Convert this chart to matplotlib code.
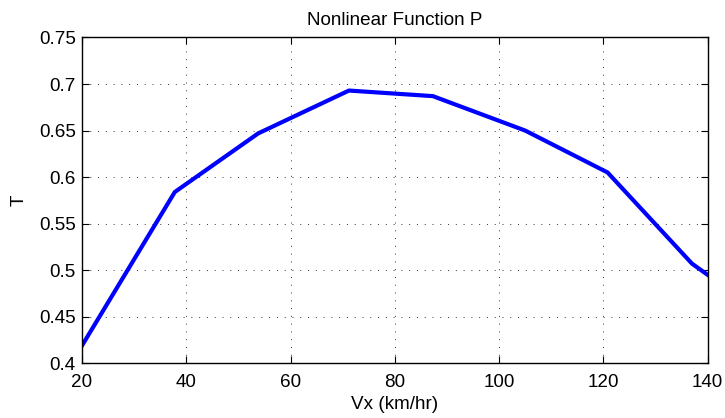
import numpy as np
import matplotlib
matplotlib.use('Agg')
import matplotlib.pyplot as plt

plt.rcParams['font.family'] = ['Liberation Sans', 'DejaVu Sans']

# values
vx = [20, 37.8, 53.8, 71.2, 87.3, 105, 120.8, 137, 140]
T = [0.419, 0.584, 0.647, 0.693, 0.687, 0.650, 0.605, 0.507, 0.495]
xticks = [20, 40, 60, 80, 100, 120, 140]
yticks = [0.4, 0.45, 0.5, 0.55, 0.6, 0.65, 0.7, 0.75]
yticklabels = ['0.4', '0.45', '0.5', '0.55', '0.6', '0.65', '0.7', '0.75']

fs = 13.6
fig = plt.figure(figsize=(7.25, 4.18), dpi=100)
ax = fig.add_axes([0.1131, 0.1309, 0.863, 0.7794])

ax.plot(vx, T, color='#0000ff', linewidth=3)

ax.set_xlim(20, 140)
ax.set_ylim(0.4, 0.75)
ax.set_xticks(xticks)
ax.set_yticks(yticks)
ax.set_yticklabels(yticklabels)
ax.tick_params(direction='in', length=5, width=0.8, labelsize=fs,
               top=True, right=True, pad=4.5)
ax.tick_params(axis='x', pad=8)
ax.grid(True, color='#333333', linestyle=(0, (1, 7)), linewidth=0.7)
for s in ax.spines.values():
    s.set_linewidth(1.0)

ax.set_title('Nonlinear Function P', fontsize=fs, pad=9)
ax.set_xlabel('Vx (km/hr)', fontsize=fs, labelpad=3)
ax.set_ylabel('T', fontsize=fs, labelpad=8)

fig.savefig('out.png', dpi=100)
